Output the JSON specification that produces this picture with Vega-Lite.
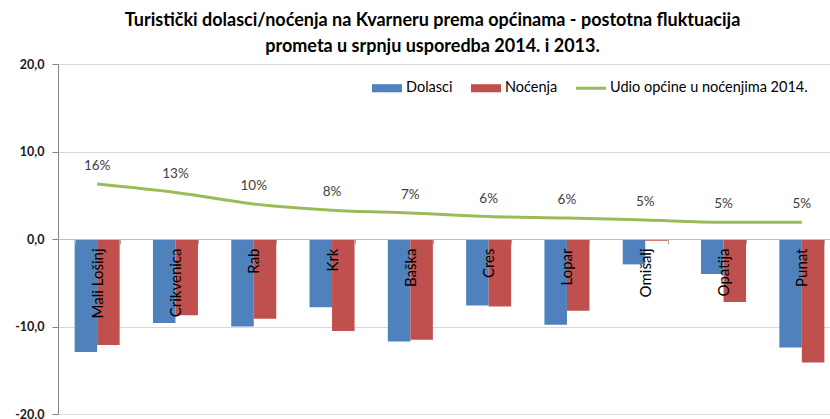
{
  "$schema": "https://vega.github.io/schema/vega-lite/v6.json",
  "width": 783,
  "height": 350,
  "autosize": {"type": "none"},
  "padding": {"left": 58, "top": 64, "right": 0, "bottom": 5},
  "background": "white",
  "config": {
    "locale": {"number": {"decimal": ",", "thousands": ".", "grouping": [3], "currency": ["", " €"], "minus": "-"}},
    "view": {"stroke": null},
    "font": "Lato"
  },
  "title": {
    "text": ["Turistički dolasci/noćenja na Kvarneru prema općinama - postotna fluktuacija", "prometa u srpnju usporedba 2014. i 2013."],
    "font": "Lato", "fontSize": 18, "fontWeight": "bold", "color": "black",
    "anchor": "middle", "frame": "group", "dx": -17, "offset": 2, "lineHeight": 26
  },
  "datasets": {
    "bars": [
      {"city": "Mali Lošinj", "series": "Dolasci", "value": -12.9},
      {"city": "Mali Lošinj", "series": "Noćenja", "value": -12.1},
      {"city": "Crikvenica", "series": "Dolasci", "value": -9.6},
      {"city": "Crikvenica", "series": "Noćenja", "value": -8.7},
      {"city": "Rab", "series": "Dolasci", "value": -10.0},
      {"city": "Rab", "series": "Noćenja", "value": -9.1},
      {"city": "Krk", "series": "Dolasci", "value": -7.8},
      {"city": "Krk", "series": "Noćenja", "value": -10.5},
      {"city": "Baška", "series": "Dolasci", "value": -11.7},
      {"city": "Baška", "series": "Noćenja", "value": -11.5},
      {"city": "Cres", "series": "Dolasci", "value": -7.6},
      {"city": "Cres", "series": "Noćenja", "value": -7.7},
      {"city": "Lopar", "series": "Dolasci", "value": -9.8},
      {"city": "Lopar", "series": "Noćenja", "value": -8.2},
      {"city": "Omišalj", "series": "Dolasci", "value": -2.9},
      {"city": "Omišalj", "series": "Noćenja", "value": -0.2},
      {"city": "Opatija", "series": "Dolasci", "value": -4.0},
      {"city": "Opatija", "series": "Noćenja", "value": -7.2},
      {"city": "Punat", "series": "Dolasci", "value": -12.4},
      {"city": "Punat", "series": "Noćenja", "value": -14.1}
    ],
    "share": [
      {"city": "Mali Lošinj", "share": 15.7, "label": "16%"},
      {"city": "Crikvenica", "share": 13.3, "label": "13%"},
      {"city": "Rab", "share": 10.0, "label": "10%"},
      {"city": "Krk", "share": 8.2, "label": "8%"},
      {"city": "Baška", "share": 7.4, "label": "7%"},
      {"city": "Cres", "share": 6.4, "label": "6%"},
      {"city": "Lopar", "share": 6.0, "label": "6%"},
      {"city": "Omišalj", "share": 5.4, "label": "5%"},
      {"city": "Opatija", "share": 4.8, "label": "5%"},
      {"city": "Punat", "share": 4.8, "label": "5%"}
    ]
  },
  "layer": [
    {
      "data": {"name": "bars"},
      "mark": {"type": "bar"},
      "encoding": {
        "x": {
          "field": "city", "type": "nominal", "sort": null,
          "scale": {"paddingInner": 0.425, "paddingOuter": 0.2125},
          "axis": {
            "title": null, "orient": "bottom", "offset": -175, "tickBand": "extent",
            "domainColor": "#BFBFBF", "tickColor": "#A6A6A6", "tickSize": 5,
            "labelAngle": 270, "labelAlign": "right", "labelBaseline": "middle", "labelPadding": 4,
            "labelFont": "Lato", "labelFontSize": 15, "labelColor": "black", "zindex": 1, "grid": false
          }
        },
        "xOffset": {"field": "series", "type": "nominal"},
        "y": {
          "field": "value", "type": "quantitative",
          "scale": {"domain": [-20, 20], "nice": false},
          "axis": {
            "values": [-20, -10, 0, 10, 20], "format": ".1f", "title": null, "grid": true,
            "gridColor": "#D9D9D9", "domainColor": "#868686", "tickColor": "#868686", "tickSize": 6,
            "labelPadding": 8, "labelFont": "Lato", "labelFontSize": 12.5, "labelFontWeight": "bold", "labelColor": "#1a1a1a", "labelFlush": false
          }
        },
        "color": {
          "field": "series", "type": "nominal",
          "scale": {"domain": ["Dolasci", "Noćenja", "Udio općine u noćenjima 2014."], "range": ["#4F81BD", "#C0504D", "#9BBB59"]},
          "legend": {
            "orient": "none", "legendX": 314, "legendY": 9, "direction": "horizontal", "title": null,
            "labelFont": "Lato", "labelFontSize": 14.5, "labelColor": "black", "labelLimit": 0,
            "symbolSize": 900, "symbolType": "M-1,-0.27H1V0.27H-1Z", "symbolStrokeWidth": 0,
            "columnPadding": 18, "labelOffset": 4,
            "encode": {
              "symbols": {
                "update": {
                  "shape": {"signal": "datum.value === 'Udio općine u noćenjima 2014.' ? 'M-1,-0.1H1V0.1H-1Z' : 'M-1,-0.27H1V0.27H-1Z'"},
                  "size": {"value": 900},
                  "fill": {"signal": "scale('color', datum.value)"},
                  "strokeWidth": {"value": 0},
                  "opacity": {"value": 1}
                }
              }
            }
          }
        }
      }
    },
    {
      "data": {"name": "share"},
      "mark": {"type": "line", "interpolate": "monotone", "strokeWidth": 3},
      "encoding": {
        "x": {"field": "city", "type": "nominal", "sort": null},
        "y": {"field": "share", "type": "quantitative", "scale": {"domain": [-50, 50], "nice": false}, "axis": null},
        "color": {"datum": "Udio općine u noćenjima 2014."}
      }
    },
    {
      "data": {"name": "share"},
      "mark": {"type": "text", "dy": -18, "font": "Lato", "fontSize": 13.5, "color": "#404040"},
      "encoding": {
        "x": {"field": "city", "type": "nominal", "sort": null},
        "y": {"field": "share", "type": "quantitative", "scale": {"domain": [-50, 50], "nice": false}, "axis": null},
        "text": {"field": "label"}
      }
    }
  ],
  "resolve": {"scale": {"y": "independent"}}
}
